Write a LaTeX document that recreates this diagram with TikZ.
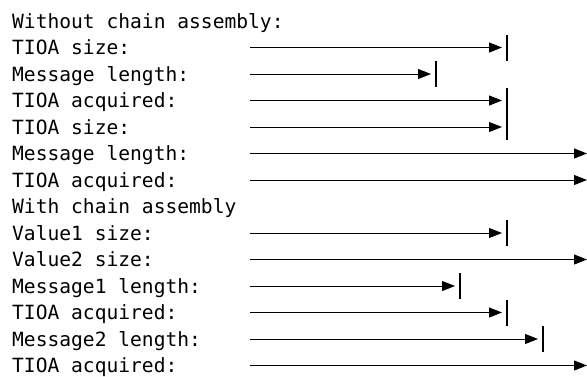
\documentclass[tikz,border=0pt]{standalone}
\usepackage{fontspec}
\setmonofont{DejaVu Sans Mono}
\usepackage{tikz}
\usetikzlibrary{arrows.meta,%
                positioning}

\tikzset{lbl/.style={anchor=base west,inner sep=0pt,
                     font=\ttfamily\fontsize{19.6}{24}\selectfont},
         arr/.style={line width=1pt,-{Triangle[length=13pt,width=10pt]}},
         stop/.style={line width=1.3pt}}

\begin{document}
\begin{tikzpicture}[x=1pt,y=1pt]
\useasboundingbox (0,0) rectangle (587,-376);
% labels
\node[lbl] (t0)  at (12,-28)   {Without chain assembly:};
\node[lbl] (t1)  at (12,-54.5) {TIOA size:};
\node[lbl] (t2)  at (12,-81)   {Message length:};
\node[lbl] (t3)  at (12,-107.5){TIOA acquired:};
\node[lbl] (t4)  at (12,-134)  {TIOA size:};
\node[lbl] (t5)  at (12,-160.5){Message length:};
\node[lbl] (t6)  at (12,-187)  {TIOA acquired:};
\node[lbl] (t7)  at (12,-213.5){With chain assembly};
\node[lbl] (t8)  at (12,-240)  {Value1 size:};
\node[lbl] (t9)  at (12,-266.5){Value2 size:};
\node[lbl] (t10) at (12,-293)  {Message1 length:};
\node[lbl] (t11) at (12,-319.5){TIOA acquired:};
\node[lbl] (t12) at (12,-346)  {Message2 length:};
\node[lbl] (t13) at (12,-372.5){TIOA acquired:};
% start points
\coordinate (s1)  at (250,-47.5);
\coordinate (s2)  at (250,-74);
\coordinate (s3)  at (250,-100.5);
\coordinate (s4)  at (250,-127);
\coordinate (s5)  at (250,-153.5);
\coordinate (s6)  at (250,-180);
\coordinate (s8)  at (250,-233);
\coordinate (s9)  at (250,-259.5);
\coordinate (s10) at (250,-286);
\coordinate (s11) at (250,-312.5);
\coordinate (s12) at (250,-339);
\coordinate (s13) at (250,-365.5);
% end points (bars)
\coordinate (e1)  at (507,-47.5);
\coordinate (e2)  at (436,-74);
\coordinate (e3)  at (507,-100.5);
\coordinate (e4)  at (507,-127);
\coordinate (e5)  at (587,-153.5);
\coordinate (e6)  at (587,-180);
\coordinate (e8)  at (507,-233);
\coordinate (e9)  at (587,-259.5);
\coordinate (e10) at (460,-286);
\coordinate (e11) at (507,-312.5);
\coordinate (e12) at (543,-339);
\coordinate (e13) at (587,-365.5);
% arrows
\draw[arr] (s1) -- ([xshift=-5pt]e1);
\draw[stop] ([yshift=13pt]e1) -- ([yshift=-13pt]e1);
\draw[arr] (s2) -- ([xshift=-5pt]e2);
\draw[stop] ([yshift=13pt]e2) -- ([yshift=-13pt]e2);
\draw[arr] (s3) -- ([xshift=-5pt]e3);
\draw[stop] ([yshift=13pt]e3) -- ([yshift=-13pt]e3);
\draw[arr] (s4) -- ([xshift=-5pt]e4);
\draw[stop] ([yshift=13pt]e4) -- ([yshift=-13pt]e4);
\draw[arr] (s5) -- (e5);
\draw[arr] (s6) -- (e6);
\draw[arr] (s8) -- ([xshift=-5pt]e8);
\draw[stop] ([yshift=13pt]e8) -- ([yshift=-13pt]e8);
\draw[arr] (s9) -- (e9);
\draw[arr] (s10) -- ([xshift=-5pt]e10);
\draw[stop] ([yshift=13pt]e10) -- ([yshift=-13pt]e10);
\draw[arr] (s11) -- ([xshift=-5pt]e11);
\draw[stop] ([yshift=13pt]e11) -- ([yshift=-13pt]e11);
\draw[arr] (s12) -- ([xshift=-5pt]e12);
\draw[stop] ([yshift=13pt]e12) -- ([yshift=-13pt]e12);
\draw[arr] (s13) -- (e13);
\end{tikzpicture}
\end{document}
